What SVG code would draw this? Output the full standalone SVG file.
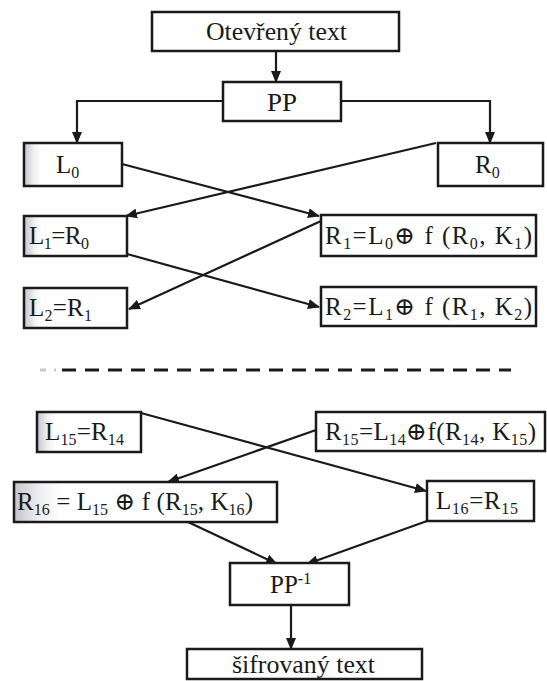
<svg xmlns="http://www.w3.org/2000/svg" width="547" height="681" viewBox="0 0 547 681">
  <style>
    .box { fill: #ffffff; stroke: #1a1a1a; stroke-width: 2.5; }
    .shade { fill: url(#leftShade); stroke: #1a1a1a; stroke-width: 2.5; }
    .lbl { font-family: "Liberation Serif", "DejaVu Serif", serif; font-size: 25px; fill: #1a1a1a; }
    .sub { font-size: 16px; }
    .wire { fill: none; stroke: #1a1a1a; stroke-width: 2.2; marker-end: url(#arrow); }
  </style>
  <defs>
    <marker id="arrow" markerUnits="userSpaceOnUse" markerWidth="12" markerHeight="10" refX="11" refY="5" orient="auto">
      <path d="M0,0 L12,5 L0,10 z" fill="#1a1a1a"/>
    </marker>
    <linearGradient id="leftShade" x1="0" y1="0" x2="1" y2="0">
      <stop offset="0" stop-color="#c4c4cc"/>
      <stop offset="0.1" stop-color="#f0f0f2"/>
      <stop offset="0.18" stop-color="#ffffff"/>
    </linearGradient>
  </defs>

  <g id="connectors">
    <line class="wire" x1="276" y1="51" x2="276" y2="82"/>
    <polyline class="wire" points="223,101 77,101 77,143"/>
    <polyline class="wire" points="341,101 490,101 490,143"/>
    <line class="wire" x1="122" y1="164" x2="319" y2="216"/>
    <line class="wire" x1="436" y1="143" x2="126" y2="216"/>
    <line class="wire" x1="127" y1="254" x2="319" y2="307"/>
    <line class="wire" x1="321" y1="221" x2="129" y2="309"/>
    <line class="wire" x1="141" y1="413" x2="426" y2="491"/>
    <line class="wire" x1="316" y1="430" x2="168" y2="482"/>
    <line class="wire" x1="188" y1="522" x2="277" y2="564"/>
    <line class="wire" x1="427" y1="521" x2="307" y2="564"/>
    <line class="wire" x1="291" y1="605" x2="291" y2="649"/>
  </g>

  <g id="ellipsis">
    <line x1="40" y1="370" x2="56" y2="370" stroke="#c8c8c8" stroke-width="3" stroke-dasharray="6 8"/>
    <line x1="62" y1="370" x2="511" y2="370" stroke="#1a1a1a" stroke-width="3" stroke-dasharray="14 9"/>
  </g>

  <g id="plaintext">
    <rect class="box" x="152" y="12" width="247" height="39"/>
    <text class="lbl" x="206" y="40" textLength="141" lengthAdjust="spacingAndGlyphs">Otevřený text</text>
  </g>

  <g id="pp">
    <rect class="box" x="223" y="82" width="118" height="39"/>
    <text class="lbl" x="267" y="111" textLength="30" lengthAdjust="spacingAndGlyphs">PP</text>
  </g>

  <g id="l0">
    <rect class="shade" x="24" y="143" width="98" height="43"/>
    <text class="lbl" x="56" y="173">L<tspan class="sub" dy="5">0</tspan></text>
  </g>

  <g id="r0">
    <rect class="box" x="438" y="143" width="105" height="43"/>
    <text class="lbl" x="475" y="173">R<tspan class="sub" dy="5">0</tspan></text>
  </g>

  <g id="l1">
    <rect class="shade" x="24" y="216" width="103" height="40"/>
    <text class="lbl" x="29" y="244" textLength="60" lengthAdjust="spacing">L<tspan class="sub" dy="5">1</tspan><tspan dy="-5">=R</tspan><tspan class="sub" dy="5">0</tspan></text>
  </g>

  <g id="r1">
    <rect class="box" x="321" y="215" width="215" height="41"/>
    <text class="lbl" x="325" y="244" textLength="207" lengthAdjust="spacing">R<tspan class="sub" dy="5">1</tspan><tspan dy="-5">=L</tspan><tspan class="sub" dy="5">0</tspan><tspan dy="-5">⊕ f (R</tspan><tspan class="sub" dy="5">0</tspan><tspan dy="-5">, K</tspan><tspan class="sub" dy="5">1</tspan><tspan dy="-5">)</tspan></text>
  </g>

  <g id="l2">
    <rect class="shade" x="24" y="288" width="103" height="40"/>
    <text class="lbl" x="29" y="316" textLength="63" lengthAdjust="spacing">L<tspan class="sub" dy="5">2</tspan><tspan dy="-5">=R</tspan><tspan class="sub" dy="5">1</tspan></text>
  </g>

  <g id="r2">
    <rect class="box" x="321" y="287" width="215" height="39"/>
    <text class="lbl" x="325" y="315" textLength="207" lengthAdjust="spacing">R<tspan class="sub" dy="5">2</tspan><tspan dy="-5">=L</tspan><tspan class="sub" dy="5">1</tspan><tspan dy="-5">⊕ f (R</tspan><tspan class="sub" dy="5">1</tspan><tspan dy="-5">, K</tspan><tspan class="sub" dy="5">2</tspan><tspan dy="-5">)</tspan></text>
  </g>

  <g id="l15">
    <rect class="shade" x="37" y="412" width="104" height="40"/>
    <text class="lbl" x="45" y="440" textLength="79" lengthAdjust="spacing">L<tspan class="sub" dy="5">15</tspan><tspan dy="-5">=R</tspan><tspan class="sub" dy="5">14</tspan></text>
  </g>

  <g id="r15">
    <rect class="box" x="316" y="412" width="229" height="39"/>
    <text class="lbl" x="325" y="440" textLength="211" lengthAdjust="spacing">R<tspan class="sub" dy="5">15</tspan><tspan dy="-5">=L</tspan><tspan class="sub" dy="5">14</tspan><tspan dy="-5">⊕f(R</tspan><tspan class="sub" dy="5">14</tspan><tspan dy="-5">, K</tspan><tspan class="sub" dy="5">15</tspan><tspan dy="-5">)</tspan></text>
  </g>

  <g id="r16">
    <rect class="shade" x="14" y="482" width="263" height="40"/>
    <text class="lbl" x="17" y="510" textLength="236" lengthAdjust="spacing">R<tspan class="sub" dy="5">16</tspan><tspan dy="-5"> = L</tspan><tspan class="sub" dy="5">15</tspan><tspan dy="-5"> ⊕ f (R</tspan><tspan class="sub" dy="5">15</tspan><tspan dy="-5">, K</tspan><tspan class="sub" dy="5">16</tspan><tspan dy="-5">)</tspan></text>
  </g>

  <g id="l16">
    <rect class="box" x="427" y="481" width="107" height="40"/>
    <text class="lbl" x="436" y="509" textLength="82" lengthAdjust="spacing">L<tspan class="sub" dy="5">16</tspan><tspan dy="-5">=R</tspan><tspan class="sub" dy="5">15</tspan></text>
  </g>

  <g id="pp-inv">
    <rect class="box" x="230" y="563" width="119" height="42"/>
    <text class="lbl" x="270" y="593">PP<tspan class="sub" dy="-9">-1</tspan></text>
  </g>

  <g id="ciphertext">
    <rect class="box" x="187" y="649" width="235" height="30"/>
    <text class="lbl" x="232" y="673" textLength="143" lengthAdjust="spacingAndGlyphs">šifrovaný text</text>
  </g>
</svg>
